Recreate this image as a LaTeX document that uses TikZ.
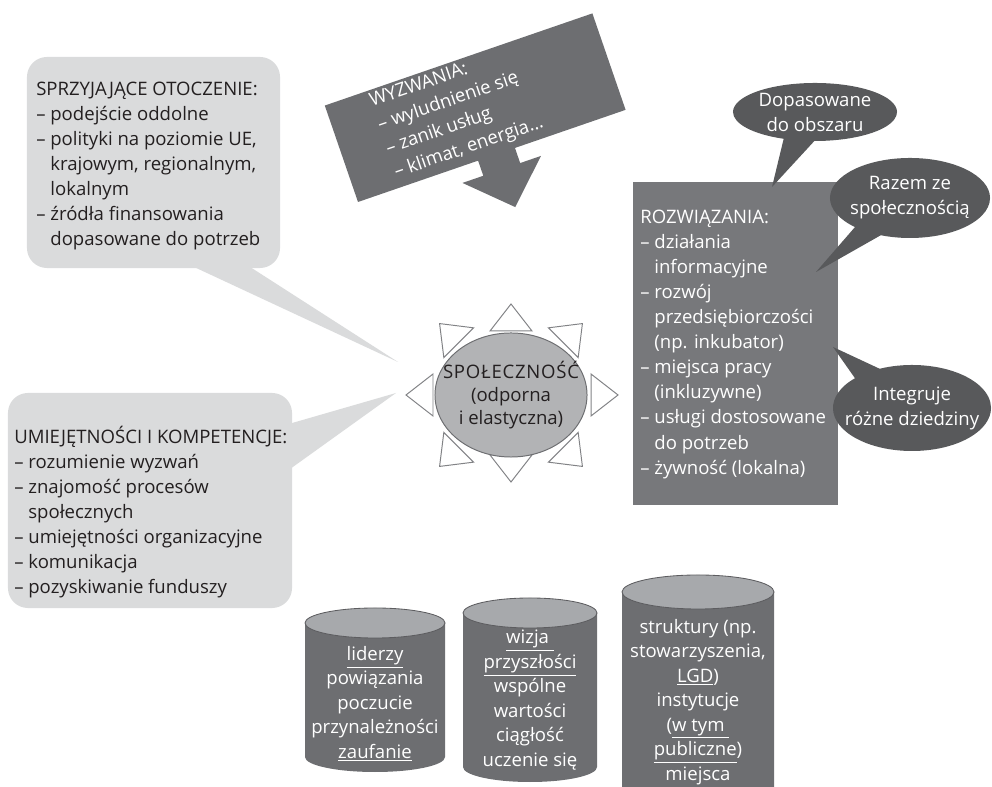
\documentclass[tikz,border=0pt]{standalone}
\usepackage{fontspec}
\setmainfont{Open Sans}
\usetikzlibrary{shapes.geometric,shapes.callouts,calc}
\definecolor{lightgrey}{RGB}{218,219,220}
\definecolor{midgrey}{RGB}{109,110,113}
\definecolor{boxgrey}{RGB}{119,120,123}
\definecolor{bubblegrey}{RGB}{88,89,91}
\definecolor{ringgrey}{RGB}{178,179,181}
\definecolor{edgegrey}{RGB}{130,131,134}
\definecolor{lidgrey}{RGB}{167,169,172}
\definecolor{inkgrey}{RGB}{35,31,32}
\newcommand{\boxfont}{\fontsize{13.2pt}{17.8pt}\selectfont}
\newcommand{\dashgap}{\phantom{– }}
\begin{document}
\begin{tikzpicture}[x=0.025cm,y=0.025cm,
  txt/.style={font=\boxfont, inner sep=0pt, align=left, anchor=north west},
  lightbox/.style={fill=lightgrey, rounded corners=0.5cm, inner sep=0pt},
  bubble/.style={ellipse callout, fill=bubblegrey, inner sep=0pt, callout pointer arc=22},
  bubbletxt/.style={font=\boxfont, text=white, inner sep=0pt, align=center},
  spike/.style={draw=edgegrey, fill=white, line width=0.7pt},
  body/.style={fill=midgrey},
  lid/.style={fill=lidgrey, draw=midgrey!85!black, line width=0.6pt},
  drum/.style={font=\fontsize{13.2pt}{17.4pt}\selectfont, text=white, inner sep=0pt, align=center, anchor=north}]
\useasboundingbox (0,0) rectangle (992,787);
\clip (0,0) rectangle (992,787);

\node[lightbox, minimum width=6.325cm, minimum height=5.275cm] (otoczenie) at (153.5,624.5) {};
\coordinate (otoczenietip) at (398,425);
\fill[lightgrey] ($(otoczenie.south west)+(153,8)$) -- (otoczenietip) -- ($(otoczenie.south west)+(213,8)$) -- cycle;
\node[txt, text=inkgrey] (otoczenietxt) at (36,705) {SPRZYJAJĄCE OTOCZENIE:\\– podejście oddolne\\– polityki na poziomie UE,\\\dashgap krajowym, regionalnym,\\\dashgap lokalnym\\– źródła finansowania\\\dashgap dopasowane do potrzeb};

\node[lightbox, minimum width=7.1cm, minimum height=5.375cm] (umiejetnosci) at (150,286.5) {};
\coordinate (umiejetnoscitip) at (396,394);
\fill[lightgrey] ($(umiejetnosci.north east)+(-6,-32)$) -- (umiejetnoscitip) -- ($(umiejetnosci.north east)+(-6,-79)$) -- cycle;
\node[txt, text=inkgrey] (umiejetnoscitxt) at (14,361) {UMIEJĘTNOŚCI I KOMPETENCJE:\\– rozumienie wyzwań\\– znajomość procesów\\\dashgap społecznych\\– umiejętności organizacyjne\\– komunikacja\\– pozyskiwanie funduszy};

\coordinate (spolc) at (511,392);
\foreach \a/\r in {0/80,45/74,90/64,135/74,180/78,225/74,270/60,315/74}
  \path[spike] ($(spolc)+(\a:\r)+({\a+90}:21)$) -- ($(spolc)+(\a:{\r+27})$) -- ($(spolc)+(\a:\r)+({\a-90}:21)$) -- cycle;
\node[ellipse, draw=midgrey, fill=ringgrey, line width=0.7pt, minimum width=3.8cm, minimum height=3.1cm, inner sep=0pt] (spol) at (spolc) {};
\node[font=\fontsize{13.2pt}{16.5pt}\selectfont, text=inkgrey, inner sep=0pt, align=center] (spoltxt) at (spol.center) {{\addfontfeature{LetterSpace=4}SPOŁECZNOŚĆ}\\(odporna\\i elastyczna)};

\begin{scope}[shift={(358,585)}, rotate=19]
\path[fill=midgrey] (0,0) -- (127,0) -- (127,-16) -- (105,-16) -- (147,-56) -- (188,-16) -- (166,-16) -- (166,0) -- (283,0) -- (283,102) -- (0,102) -- cycle;
\node[txt, text=white, rotate=19] (wyzwania) at (44,99) {WYZWANIA:\\– wyludnienie się\\– zanik usług\\– klimat, energia...};
\end{scope}

\node[fill=boxgrey, minimum width=5.125cm, minimum height=8.075cm, inner sep=0pt] (rozw) at (735.5,443.5) {};
\node[txt, text=white] (rozwtxt) at (640,577) {ROZWIĄZANIA:\\– działania\\\dashgap informacyjne\\– rozwój\\\dashgap przedsiębiorczości\\\dashgap (np. inkubator)\\– miejsca pracy\\\dashgap (inkluzywne)\\– usługi dostosowane\\\dashgap do potrzeb\\– żywność (lokalna)};

\coordinate (obszartip) at (772,600);
\node[bubble, minimum width=4.1cm, minimum height=1.45cm, callout absolute pointer={(obszartip)}] (obszar) at (815,675) {};
\node[bubbletxt] (obszartxt) at (obszar.center) {Dopasowane\\do obszaru};
\coordinate (razemtip) at (816,515);
\node[bubble, minimum width=4cm, minimum height=2cm, callout absolute pointer={(razemtip)}] (razem) at (910,589) {};
\node[bubbletxt] (razemtxt) at (razem.center) {Razem ze\\społecznością};
\coordinate (integrujetip) at (833,440);
\node[bubble, minimum width=3.95cm, minimum height=2.15cm, callout absolute pointer={(integrujetip)}] (integruje) at (912,379) {};
\node[bubbletxt] (integrujetxt) at (integruje.center) {Integruje\\różne dziedziny};

\path[body] (305,164) -- (305,30) arc[start angle=180, end angle=360, x radius=1.75cm, y radius=0.375cm] -- (445,164) -- cycle;
\path[lid] (375,164) ellipse [x radius=1.75cm, y radius=0.375cm];
\node[drum] (liderzy) at (375,141) {\underline{liderzy}\\powiązania\\poczucie\\przynależności\\\underline{zaufanie}};
\path[body] (463,174) -- (463,20) arc[start angle=180, end angle=360, x radius=1.675cm, y radius=0.375cm] -- (597,174) -- cycle;
\path[lid] (530,174) ellipse [x radius=1.675cm, y radius=0.375cm];
\node[drum] (wizja) at (530,157) {\underline{wizja\ }\\\underline{przyszłości}\\wspólne\\wartości\\ciągłość\\uczenie się};
\path[body] (622,195) -- (622,-40) arc[start angle=180, end angle=360, x radius=1.9cm, y radius=0.425cm] -- (774,195) -- cycle;
\path[lid] (698,195) ellipse [x radius=1.9cm, y radius=0.425cm];
\node[drum] (struktury) at (698,168) {struktury (np.\\stowarzyszenia,\\\underline{LGD})\\instytucje\\(\underline{w tym\ }\\\underline{publiczne})\\miejsca};
\end{tikzpicture}
\end{document}
